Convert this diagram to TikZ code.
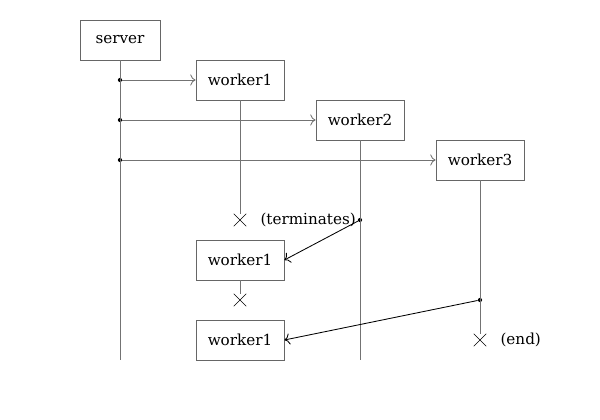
\documentclass[tikz,border=0pt]{standalone}
\usepackage{fontspec}
\setmainfont{DejaVu Serif}
\usetikzlibrary{arrows.meta, positioning, shapes.misc}

\begin{document}
\begin{tikzpicture}[
        every node/.style={font=\fontsize{10.8}{13}\selectfont},
        proc/.style={draw=black!60, fill=white, semithick, minimum height=1cm, minimum width=2.2cm},
        life/.style={black!55, semithick},
        call/.style={-{To[scale=1.3]}, black!55, semithick},
        reply/.style={-{To[scale=1.3]}, black, semithick},
        dot/.style={circle, fill=black, inner sep=0pt, minimum size=3pt},
        kill/.style={cross out, draw=black, inner sep=0pt, minimum size=0.3cm}
    ]
    \useasboundingbox (0,0) rectangle (15,10.5);

    % Lifelines ends and messages
    \coordinate (send) at (3,1.5);
    \coordinate (w2end) at (9,1.5);
    \node [dot] (s1) at (3,8.5) {};
    \node [dot] (s2) at (3,7.5) {};
    \node [dot] (s3) at (3,6.5) {};
    \node [dot] (d2) at (9,5) {};
    \node [dot] (d3) at (12,3) {};
    \node [kill] (x1) at (6,5) {};
    \node [kill] (x2) at (6,3) {};
    \node [kill] (x3) at (12,2) {};

    % Nodes
    \node [proc, minimum width=2cm] (server) at (3,9.5) {server};
    \node [proc] (w1) at (6,8.5) {worker1};
    \node [proc] (w2) at (9,7.5) {worker2};
    \node [proc] (w3) at (12,6.5) {worker3};
    \node [proc] (w1b) at (6,4) {worker1};
    \node [proc] (w1c) at (6,2) {worker1};

    % Lifelines
    \draw[life] (server) -- (send);
    \draw[life] (w1) -- (x1);
    \draw[life] (w2) -- (w2end);
    \draw[life] (w3) -- (x3);
    \draw[life] (w1b) -- (x2);

    % Spawning the workers
    \draw[call] (s1) -- (w1);
    \draw[call] (s2) -- (w2);
    \draw[call] (s3) -- (w3);

    % Restarts
    \draw[reply] (d2) -- (w1b.east);
    \draw[reply] (d3) -- (w1c.east);

    % Labels
    \node [right=0.35cm of x1, inner sep=0pt] (lterm) {(terminates)};
    \node [right=0.35cm of x3, inner sep=0pt] (lend) {(end)};

\end{tikzpicture}
\end{document}
